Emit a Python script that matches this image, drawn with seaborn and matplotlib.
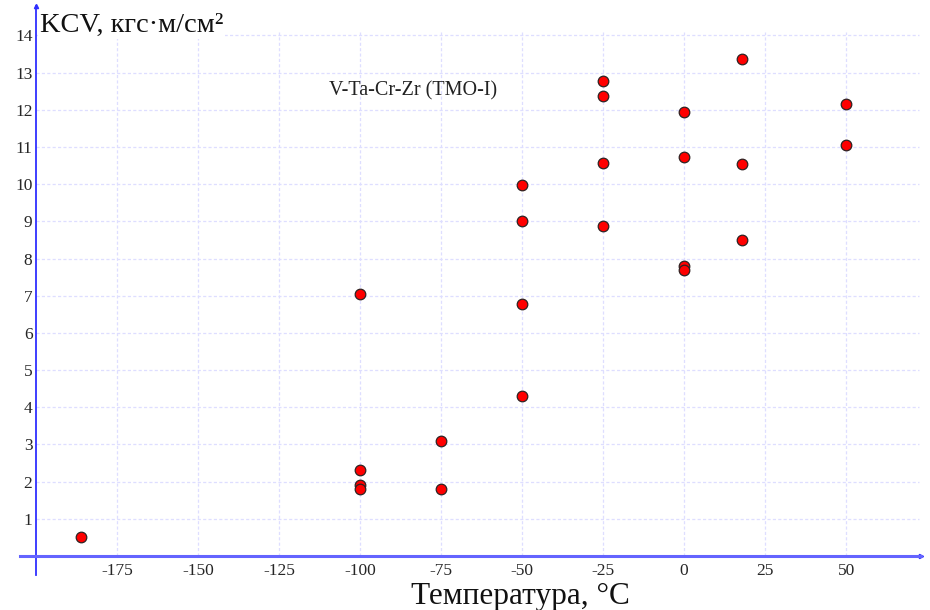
import matplotlib
matplotlib.use("Agg")
import matplotlib.pyplot as plt
import seaborn as sns
import pandas as pd

# Impact toughness of V-Ta-Cr-Zr alloy versus test temperature
temperature = [-186,
               -100, -100, -100, -100,
               -75, -75,
               -50, -50, -50, -50,
               -25, -25, -25, -25,
               0, 0, 0, 0,
               18, 18, 18,
               50, 50]
kcv = [0.52,
       7.04, 2.31, 1.92, 1.80,
       3.09, 1.80,
       9.98, 9.01, 6.77, 4.29,
       12.78, 12.38, 10.58, 8.87,
       11.95, 10.74, 7.80, 7.68,
       13.36, 10.55, 8.50,
       12.16, 11.06]

x_ticks = [-175, -150, -125, -100, -75, -50, -25, 0, 25, 50]
y_ticks = list(range(1, 15))

y_title = "KCV, кгс·м/см²"
x_title = "Температура, °C"
series_name = "V-Ta-Cr-Zr (TMO-I)"

df = pd.DataFrame({"T": temperature, "KCV": kcv})

sns.set_style("white")
plt.rcParams["font.family"] = ["Liberation Serif", "DejaVu Serif"]

fig = plt.figure(figsize=(9.3, 6.1), dpi=100)
ax = fig.add_axes([0, 0, 1, 1])
ax.set_xlim(-211.1, 75.9)
ax.set_ylim(-1.45, 14.95)

grid_color = "#dedeff"
ax.vlines(x_ticks, 0, 14.1, colors=grid_color, linestyles=(0, (2.5, 1.8)), linewidth=0.9, zorder=1)
ax.hlines(y_ticks, -200, 72.5, colors=grid_color, linestyles=(0, (2.5, 1.8)), linewidth=0.9, zorder=1)

sns.scatterplot(data=df, x="T", y="KCV", ax=ax, color="#ff0000", edgecolor="#2e2222",
                linewidth=0.9, s=58, zorder=5, legend=False)

# axes drawn as lines through the origin
for side in ("top", "right"):
    ax.spines[side].set_visible(False)
ax.spines["left"].set_position(("data", -200))
ax.spines["bottom"].set_position(("data", 0))
ax.spines["left"].set_bounds(-0.5, 14.8)
ax.spines["bottom"].set_bounds(-205, 73)
ax.spines["left"].set_color("#2f2fff")
ax.spines["left"].set_linewidth(1.3)
ax.spines["bottom"].set_color("#6464ff")
ax.spines["bottom"].set_linewidth(2.2)
ax.spines["left"].set_zorder(3)
ax.spines["bottom"].set_zorder(3)
ax.plot([-200], [14.8], marker="^", color="#2f2fff", markersize=3, clip_on=False, zorder=3)
ax.plot([73], [0], marker=">", color="#2f2fff", markersize=3, clip_on=False, zorder=3)

ax.set_xticks(x_ticks)
ax.set_yticks(y_ticks)
ax.set_xticklabels([str(v) for v in x_ticks])
ax.set_yticklabels([str(v) for v in y_ticks])
ax.tick_params(axis="x", length=3, width=1, color=grid_color, pad=2,
               labelsize=12.5, labelcolor="#262626", direction="out")
ax.tick_params(axis="y", length=2, width=1, color=grid_color, pad=0.5,
               labelsize=12.5, labelcolor="#262626", direction="out")
ax.set_xlabel("")
ax.set_ylabel("")

ax.text(-198.8, 14.1, y_title, fontsize=20.5, color="#111111", ha="left", va="baseline",
        zorder=4, bbox=dict(facecolor="white", edgecolor="none", pad=1))
ax.text(-109.5, 12.5, series_name, fontsize=14.5, color="#222222", ha="left", va="center", zorder=4)
ax.text(-50.5, -1.28, x_title, fontsize=22.5, color="#111111", ha="center", va="baseline", zorder=4)

fig.savefig("out.png", dpi=100, facecolor="white")
